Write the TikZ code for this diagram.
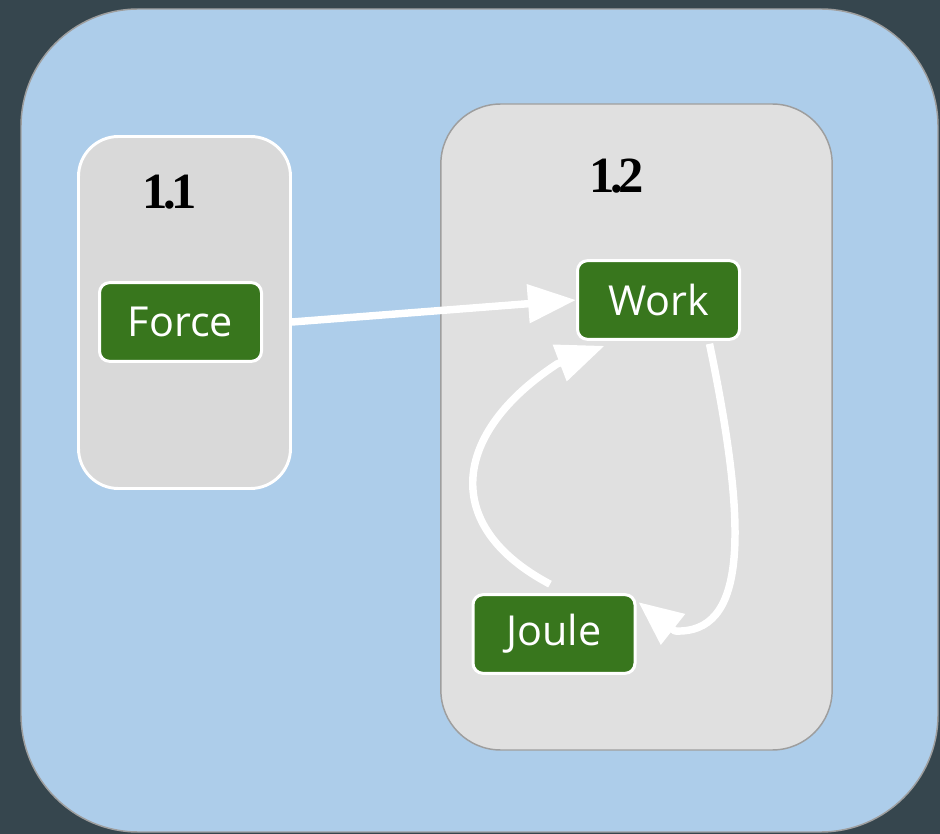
\documentclass[tikz,border=0pt]{standalone}
\usepackage{fontspec}
\usetikzlibrary{arrows.meta}
\newfontfamily\nodefont{Open Sans}
\newfontfamily\titlefont{Liberation Serif}
\definecolor{slate}{HTML}{36464E}
\definecolor{skyfill}{HTML}{ADCDEA}
\definecolor{frame}{HTML}{9E9E9E}
\definecolor{grayA}{HTML}{D9D9D9}
\definecolor{grayB}{HTML}{E0E0E0}
\definecolor{leaf}{HTML}{38761D}
\newcommand{\tightnum}[2]{#1\kern-0.09em.\kern-0.09em#2}

\begin{document}
\begin{tikzpicture}[x=0.75pt,y=-0.75pt,
  panel/.style={draw=frame, line width=1.1pt, fill=skyfill, rounded corners=88pt,
    minimum width=687.75pt, minimum height=617.25pt, inner sep=0pt},
  clusterA/.style={draw=white, line width=2.2pt, fill=grayA, rounded corners=30pt,
    minimum width=159pt, minimum height=264pt, inner sep=0pt},
  clusterB/.style={draw=frame, line width=1.1pt, fill=grayB, rounded corners=45pt,
    minimum width=293.5pt, minimum height=484.5pt, inner sep=0pt},
  term/.style={draw=white, line width=2.25pt, fill=leaf, rounded corners=7.5pt,
    minimum width=121.5pt, minimum height=59pt, inner sep=0pt, text=white,
    font=\nodefont\fontsize{31}{31}\selectfont},
  heading/.style={inner sep=0pt, font=\titlefont\bfseries\fontsize{38}{38}\selectfont},
  link/.style={draw=white, line width=5.6pt, line join=round,
    -{Triangle[length=36pt,width=28pt]}},
  shortlink/.style={link, -{Triangle[length=33pt,width=28pt]}}
]
\useasboundingbox (0,0) rectangle (940,834);
\fill[slate] (0,0) rectangle (940,834);

% outer panel and the two clusters
\node[panel] (outer) at (479.5,420.5) {};
\node[clusterA] (c11) at (184.5,312.5) {};
\node[clusterB] (c12) at (636.5,427) {};

\node[heading] (t11) at (170,192) {\tightnum{1}{1}};
\node[heading] (t12) at (617,176) {\tightnum{1}{2}};

% terms
\node[term] (force) at (180.5,322) {Force};
\node[term] (work)  at (658.5,300) {Work};
\node[term] (joule) at (554,634) {Joule};

% arrow bases of the curved connectors
\coordinate (jwbase) at (557,364);
\coordinate (wjbase) at (675,631);

% connectors
\draw[link] (force -| c11.east) -- (work.west);
\draw[link] ([shift={(-4,-9)}]joule.north)
  .. controls (440,526) and (452,433) .. (jwbase)
  -- ([shift={(-54,5)}]work.south);
\draw[shortlink] ([shift={(51,3)}]work.south)
  .. controls (750,538) and (745,634) .. (wjbase)
  -- ([shift={(2,9)}]joule.north east);
\end{tikzpicture}
\end{document}
